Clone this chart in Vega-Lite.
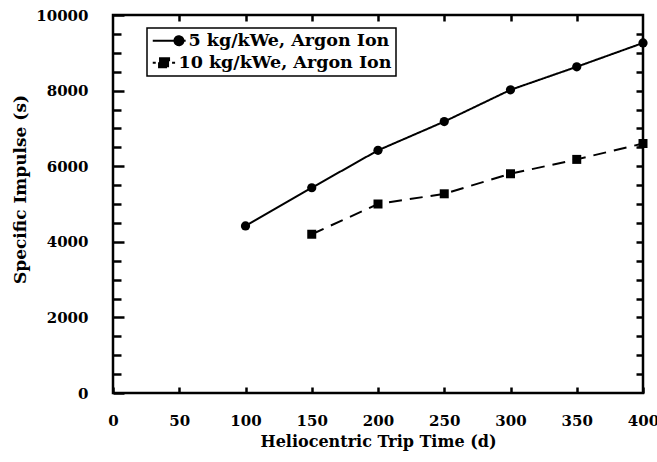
{
  "$schema": "https://vega.github.io/schema/vega-lite/v6.json",
  "width": 530,
  "height": 378,
  "autosize": "none",
  "padding": {"left": 113, "top": 15, "right": 14, "bottom": 69},
  "background": "white",
  "config": {
    "view": {"stroke": "black", "strokeWidth": 2.5},
    "axis": {
      "grid": false, "domain": false,
      "labelFont": "DejaVu Serif", "labelFontWeight": "bold", "labelFontSize": 15, "labelColor": "black",
      "titleFont": "DejaVu Serif", "titleFontWeight": "bold", "titleFontSize": 16, "titleColor": "black",
      "tickColor": "black", "tickWidth": 2.5
    },
    "legend": {
      "labelFont": "DejaVu Serif", "labelFontWeight": "bold", "labelFontSize": 17.5, "labelColor": "black"
    }
  },
  "data": {
    "values": [
      {"t": 100, "isp": 4420, "series": "5 kg/kWe, Argon Ion"},
      {"t": 150, "isp": 5430, "series": "5 kg/kWe, Argon Ion"},
      {"t": 200, "isp": 6420, "series": "5 kg/kWe, Argon Ion"},
      {"t": 250, "isp": 7180, "series": "5 kg/kWe, Argon Ion"},
      {"t": 300, "isp": 8020, "series": "5 kg/kWe, Argon Ion"},
      {"t": 350, "isp": 8630, "series": "5 kg/kWe, Argon Ion"},
      {"t": 400, "isp": 9260, "series": "5 kg/kWe, Argon Ion"},
      {"t": 150, "isp": 4200, "series": "10 kg/kWe, Argon Ion"},
      {"t": 200, "isp": 5000, "series": "10 kg/kWe, Argon Ion"},
      {"t": 250, "isp": 5270, "series": "10 kg/kWe, Argon Ion"},
      {"t": 300, "isp": 5800, "series": "10 kg/kWe, Argon Ion"},
      {"t": 350, "isp": 6180, "series": "10 kg/kWe, Argon Ion"},
      {"t": 400, "isp": 6600, "series": "10 kg/kWe, Argon Ion"}
    ]
  },
  "resolve": {"axis": {"x": "independent", "y": "independent"}},
  "layer": [
    {
      "mark": {"type": "line", "color": "black", "strokeWidth": 2},
      "encoding": {
        "x": {"field": "t", "type": "quantitative",
          "scale": {"domain": [0, 400]},
          "axis": {"orient": "bottom", "title": "Heliocentric Trip Time (d)",
            "values": [0, 50, 100, 150, 200, 250, 300, 350, 400], "format": "d",
            "offset": -6, "tickSize": 6, "labelPadding": 20, "titlePadding": 5, "labelFlush": false}},
        "y": {"field": "isp", "type": "quantitative",
          "scale": {"domain": [0, 10000]},
          "axis": {"orient": "left", "title": "Specific Impulse (s)", "titleFontSize": 17,
            "values": [0, 2000, 4000, 6000, 8000, 10000], "format": "d",
            "offset": -11, "tickSize": 11, "labelPadding": 25, "labelFlush": false,
            "titleX": -104, "titleY": 174, "titleBaseline": "middle", "titleAlign": "center", "titleAngle": -90}},
        "strokeDash": {"field": "series", "type": "nominal",
          "sort": ["5 kg/kWe, Argon Ion", "10 kg/kWe, Argon Ion"],
          "scale": {"domain": ["5 kg/kWe, Argon Ion", "10 kg/kWe, Argon Ion"], "range": [[1, 0], [13, 8]]},
          "legend": {"title": null, "orient": "none", "legendX": 34, "legendY": 13,
            "strokeColor": "black", "padding": 4, "rowPadding": 3,
            "symbolSize": 196, "symbolStrokeWidth": 2, "symbolStrokeColor": "black", "symbolFillColor": "black",
            "labelOffset": 10, "labelLimit": 400,
            "encode": {
              "legend": {"update": {"strokeWidth": {"value": 1.5}}},
              "labels": {"update": {"dx": {"signal": "datum.value === '5 kg/kWe, Argon Ion' ? 10 : 0"}}},
              "symbols": {"update": {
                "strokeDash": {"value": [1, 0]},
                "shape": {"signal": "datum.value === '5 kg/kWe, Argon Ion' ? 'M-1,0L3.7,0M2.1,0A0.64,0.64 0 1,0 3.38,0A0.64,0.64 0 1,0 2.1,0Z' : 'M-1,0L-0.57,0M-0.1,-0.64L1.33,-0.64L1.33,0.64L-0.1,0.64ZM1.76,0L2.19,0'"}}}}}}
      }
    },
    {
      "transform": [{"filter": "datum.series === '5 kg/kWe, Argon Ion'"}],
      "mark": {"type": "point", "shape": "circle", "filled": true, "color": "black", "opacity": 1, "size": 85},
      "encoding": {
        "x": {"field": "t", "type": "quantitative",
          "scale": {"domain": [0, 400]},
          "axis": {"orient": "top", "title": null, "labels": false,
            "values": [50, 100, 150, 200, 250, 300, 350], "offset": -6, "tickSize": 6}},
        "y": {"field": "isp", "type": "quantitative",
          "scale": {"domain": [0, 10000]},
          "axis": {"orient": "left", "title": null, "labels": false,
            "values": [500, 1000, 1500, 2500, 3000, 3500, 4500, 5000, 5500, 6500, 7000, 7500, 8500, 9000, 9500],
            "offset": -8, "tickSize": 8}}
      }
    },
    {
      "transform": [{"filter": "datum.series === '10 kg/kWe, Argon Ion'"}],
      "mark": {"type": "point", "shape": "square", "filled": true, "color": "black", "opacity": 1, "size": 81},
      "encoding": {
        "x": {"field": "t", "type": "quantitative", "scale": {"domain": [0, 400]}, "axis": null},
        "y": {"field": "isp", "type": "quantitative",
          "scale": {"domain": [0, 10000]},
          "axis": {"orient": "right", "title": null, "labels": false,
            "values": [500, 1000, 1500, 2000, 2500, 3000, 3500, 4000, 4500, 5000, 5500, 6000, 6500, 7000, 7500, 8000, 8500, 9000, 9500],
            "offset": -7, "tickSize": 7}}
      }
    }
  ]
}
